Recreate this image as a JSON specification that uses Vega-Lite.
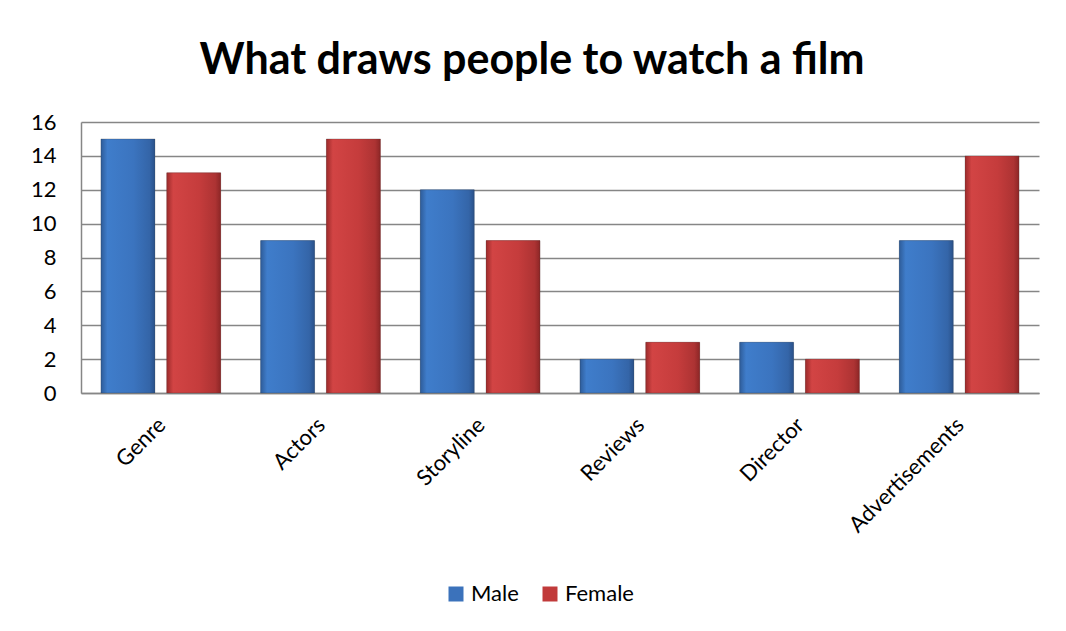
{
  "$schema": "https://vega.github.io/schema/vega-lite/v6.json",
  "width": 958,
  "height": 271,
  "autosize": {"type": "none"},
  "padding": {"left": 81, "top": 122, "right": 27, "bottom": 238},
  "background": "white",
  "title": {
    "text": "What draws people to watch a film",
    "font": "Lato",
    "fontSize": 43,
    "fontWeight": "bold",
    "color": "#000000",
    "anchor": "middle",
    "dx": -28,
    "offset": 28
  },
  "config": {
    "view": {"stroke": null},
    "font": "Lato"
  },
  "data": {
    "values": [
      {"factor": "Genre", "gender": "Male", "count": 15},
      {"factor": "Genre", "gender": "Female", "count": 13},
      {"factor": "Actors", "gender": "Male", "count": 9},
      {"factor": "Actors", "gender": "Female", "count": 15},
      {"factor": "Storyline", "gender": "Male", "count": 12},
      {"factor": "Storyline", "gender": "Female", "count": 9},
      {"factor": "Reviews", "gender": "Male", "count": 2},
      {"factor": "Reviews", "gender": "Female", "count": 3},
      {"factor": "Director", "gender": "Male", "count": 3},
      {"factor": "Director", "gender": "Female", "count": 2},
      {"factor": "Advertisements", "gender": "Male", "count": 9},
      {"factor": "Advertisements", "gender": "Female", "count": 14}
    ]
  },
  "encoding": {
    "x": {
      "field": "factor",
      "type": "nominal",
      "sort": ["Genre", "Actors", "Storyline", "Reviews", "Director", "Advertisements"],
      "scale": {"paddingInner": 0.25, "paddingOuter": 0.125},
      "axis": {
        "title": null,
        "labelAngle": -45,
        "labelFontSize": 22,
        "labelColor": "#000000",
        "labelPadding": 21,
        "labelOffset": -6,
        "ticks": false,
        "domainColor": "#868686",
        "domainWidth": 1.5
      }
    },
    "xOffset": {
      "field": "gender",
      "type": "nominal",
      "sort": ["Male", "Female"],
      "scale": {"paddingInner": 0.18}
    },
    "y": {
      "field": "count",
      "type": "quantitative",
      "scale": {"domain": [0, 16]},
      "axis": {
        "title": null,
        "values": [0, 2, 4, 6, 8, 10, 12, 14, 16],
        "labelFontSize": 22,
        "labelColor": "#000000",
        "labelPadding": 25,
        "ticks": false,
        "domainColor": "#868686",
        "domainWidth": 1.5,
        "gridColor": "#868686",
        "gridWidth": 1.5
      }
    }
  },
  "layer": [
    {
      "mark": {"type": "bar"},
      "encoding": {
        "color": {
          "field": "gender",
          "type": "nominal",
          "sort": ["Male", "Female"],
          "scale": {"domain": ["Male", "Female"], "range": ["#3b72bb", "#c13a3a"]},
          "legend": {
            "title": null,
            "orient": "none",
            "legendX": 364,
            "legendY": 461,
            "direction": "horizontal",
            "symbolType": "square",
            "symbolSize": 225,
            "symbolStrokeWidth": 0,
            "labelFontSize": 22,
            "labelColor": "#000000",
            "columnPadding": 20
          }
        }
      }
    },
    {
      "mark": {"type": "bar", "stroke": "#333333", "strokeOpacity": 0.25, "strokeWidth": 1},
      "encoding": {
        "fill": {
          "condition": {
            "test": "datum.gender === 'Male'",
            "value": {
              "gradient": "linear", "x1": 0, "y1": 0, "x2": 1, "y2": 0,
              "stops": [
                {"offset": 0, "color": "#2e5c99"},
                {"offset": 0.12, "color": "#3f7dcb"},
                {"offset": 0.6, "color": "#3b74bf"},
                {"offset": 0.9, "color": "#3465a8"},
                {"offset": 1, "color": "#2a5189"}
              ]
            }
          },
          "value": {
            "gradient": "linear", "x1": 0, "y1": 0, "x2": 1, "y2": 0,
            "stops": [
              {"offset": 0, "color": "#9c2b2b"},
              {"offset": 0.12, "color": "#d24444"},
              {"offset": 0.6, "color": "#c53c3c"},
              {"offset": 0.9, "color": "#ad3333"},
              {"offset": 1, "color": "#8c2626"}
            ]
          }
        }
      }
    }
  ]
}
